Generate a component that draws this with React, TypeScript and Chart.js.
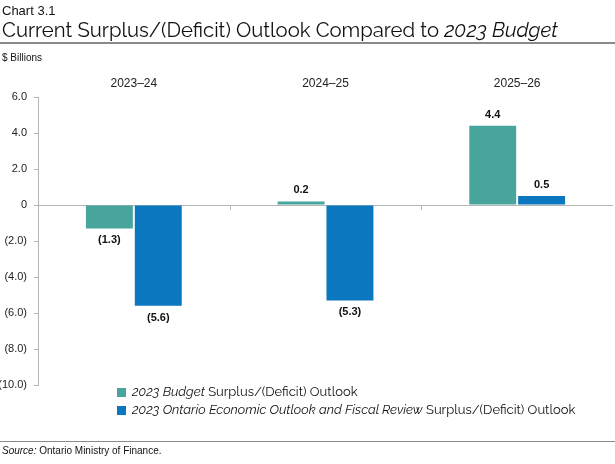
import React, { useEffect, useRef } from "react";
import { Chart, registerables } from "chart.js";

Chart.register(...registerables);

const categories = ["2023–24", "2024–25", "2025–26"];
const budgetValues = [-1.3, 0.2, 4.4];
const fesValues = [-5.6, -5.3, 0.5];
const seriesNames = [
  { italic: "2023 Budget", rest: " Surplus/(Deficit) Outlook" },
  { italic: "2023 Ontario Economic Outlook and Fiscal Review", rest: " Surplus/(Deficit) Outlook" },
];
const colors = ["#47A59E", "#0A77BF"];
const yMin = -10;
const yMax = 6;
const yStep = 2;

const fmt = (v: number) => (v < 0 ? `(${Math.abs(v).toFixed(1)})` : v === 0 ? "0" : v.toFixed(1));

const dataLabelPlugin = {
  id: "dataLabels",
  afterDatasetsDraw(chart: any) {
    const ctx = chart.ctx;
    ctx.save();
    ctx.font = "bold 11px 'Liberation Sans', Arial, sans-serif";
    ctx.fillStyle = "#111";
    ctx.textAlign = "center";
    ctx.textBaseline = "middle";
    chart.data.datasets.forEach((ds: any, di: number) => {
      const meta = chart.getDatasetMeta(di);
      meta.data.forEach((bar: any, i: number) => {
        const v = ds.data[i];
        const y = v >= 0 ? bar.y - 11 : bar.y + 12;
        ctx.fillText(fmt(v), bar.x, y);
      });
    });
    ctx.restore();
  },
};

const categoryLabelPlugin = {
  id: "categoryLabels",
  afterDraw(chart: any) {
    const ctx = chart.ctx;
    const x = chart.scales.x;
    const top = chart.chartArea.top;
    ctx.save();
    ctx.font = "12px 'Liberation Sans Narrow', 'Arial Narrow', 'Liberation Sans', sans-serif";
    ctx.fillStyle = "#222";
    ctx.textAlign = "center";
    ctx.textBaseline = "middle";
    categories.forEach((c, i) => {
      ctx.fillText(c, x.getPixelForValue(i), top - 13);
    });
    ctx.restore();
  },
};

const zeroTicksPlugin = {
  id: "zeroTicks",
  afterDatasetsDraw(chart: any) {
    const ctx = chart.ctx;
    const x = chart.scales.x;
    const y = chart.scales.y;
    const y0 = y.getPixelForValue(0);
    ctx.save();
    ctx.strokeStyle = "#b5b5b5";
    ctx.lineWidth = 1;
    for (let i = 1; i < categories.length; i++) {
      const px = Math.round((x.getPixelForValue(i - 1) + x.getPixelForValue(i)) / 2) + 0.5;
      ctx.beginPath();
      ctx.moveTo(px, y0);
      ctx.lineTo(px, y0 + 5);
      ctx.stroke();
    }
    ctx.restore();
  },
};

export default function App() {
  const ref = useRef<HTMLCanvasElement | null>(null);

  useEffect(() => {
    if (!ref.current) return;
    const chart = new Chart(ref.current, {
      type: "bar",
      data: {
        labels: categories,
        datasets: [
          {
            label: seriesNames[0].italic + seriesNames[0].rest,
            data: budgetValues,
            backgroundColor: colors[0],
            borderWidth: 0,
            categoryPercentage: 0.51,
            barPercentage: 0.96,
          },
          {
            label: seriesNames[1].italic + seriesNames[1].rest,
            data: fesValues,
            backgroundColor: colors[1],
            borderWidth: 0,
            categoryPercentage: 0.51,
            barPercentage: 0.96,
          },
        ],
      },
      options: {
        responsive: false,
        animation: false,
        devicePixelRatio: 1,
        layout: { padding: { top: 97, bottom: 79, right: 2, left: 0 } },
        plugins: {
          legend: { display: false },
          tooltip: { enabled: false },
          title: { display: false },
        },
        scales: {
          x: {
            position: "top",
            grid: { display: false },
            border: { display: false },
            ticks: { display: false },
            afterFit: (s: any) => {
              s.height = 0;
            },
          },
          y: {
            min: yMin,
            max: yMax,
            border: { display: true, color: "#b5b5b5" },
            grid: {
              color: (c: any) => (c.tick && c.tick.value === 0 ? "#b5b5b5" : "rgba(0,0,0,0)"),
              tickColor: "#b5b5b5",
              tickLength: 4,
              drawOnChartArea: true,
            },
            ticks: {
              stepSize: yStep,
              padding: 7,
              color: "#222",
              font: { family: "'Liberation Sans', Arial, sans-serif", size: 11 },
              callback: (v: any) => fmt(Number(v)),
            },
            afterFit: (s: any) => {
              s.width = 38;
            },
          },
        },
      },
      plugins: [dataLabelPlugin, zeroTicksPlugin, categoryLabelPlugin],
    });
    return () => chart.destroy();
  }, []);

  const titleFont = "Raleway, 'Open Sans', Lato, sans-serif";
  return (
    <div style={{ position: "absolute", left: 0, top: 0, width: 615, height: 464, background: "#fff", overflow: "hidden" }}>
      <canvas ref={ref} width={615} height={464} style={{ position: "absolute", left: 0, top: 0, width: 615, height: 464 }} />
      <div style={{ position: "absolute", left: 2, top: 3, fontFamily: "'Liberation Sans', Arial, sans-serif", fontSize: 13, color: "#111", lineHeight: "16px" }}>
        Chart 3.1
      </div>
      <div style={{ position: "absolute", left: 2, top: 18, fontFamily: titleFont, fontSize: 20.3, color: "#111", lineHeight: "24px", whiteSpace: "nowrap" }}>
        Current Surplus/(Deficit) Outlook Compared to <i>2023 Budget</i>
      </div>
      <div style={{ position: "absolute", left: 0, top: 42, width: 615, height: 0, borderTop: "2px solid #8a8a8a" }} />
      <div style={{ position: "absolute", left: 2, top: 51, fontFamily: "'Liberation Sans', Arial, sans-serif", fontSize: 10, color: "#111", lineHeight: "14px" }}>
        $ Billions
      </div>
      <div style={{ position: "absolute", left: 117, top: 383, fontFamily: titleFont, fontSize: 13, color: "#111", lineHeight: "18px" }}>
        {seriesNames.map((s, i) => (
          <div key={i} style={{ display: "flex", alignItems: "center", whiteSpace: "nowrap" }}>
            <span style={{ display: "inline-block", width: 9, height: 9, background: colors[i], marginRight: 6 }} />
            <span>
              <i>{s.italic}</i>
              {s.rest}
            </span>
          </div>
        ))}
      </div>
      <div style={{ position: "absolute", left: 0, top: 441, width: 615, height: 0, borderTop: "1px solid #8a8a8a" }} />
      <div style={{ position: "absolute", left: 2, top: 444, fontFamily: "'Liberation Sans', Arial, sans-serif", fontSize: 10, color: "#111", lineHeight: "14px" }}>
        <i>Source:</i> Ontario Ministry of Finance.
      </div>
    </div>
  );
}
